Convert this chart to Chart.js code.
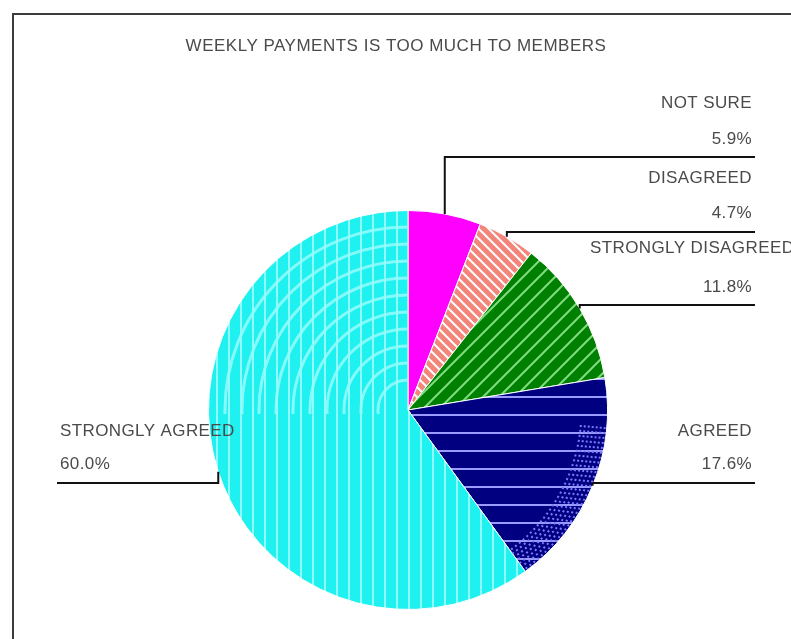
<!DOCTYPE html>
<html>
<head>
<meta charset="utf-8">
<script src="https://cdn.jsdelivr.net/npm/chart.js@4/dist/chart.umd.min.js"></script>
<style>
html, body { margin: 0; padding: 0; background: #fff; }
</style>
</head>
<body>
<canvas id="myChart" width="791" height="639"></canvas>
<script>
// chart data
const chartTitle = 'WEEKLY PAYMENTS IS TOO MUCH TO MEMBERS';
const categories = ['NOT SURE', 'DISAGREED', 'STRONGLY DISAGREED', 'AGREED', 'STRONGLY AGREED'];
const percents = [5.9, 4.7, 11.8, 17.6, 60.0];

// look of each slice
const fillColors = ['#ff00ff', '#f4857a', '#008000', '#000080', '#1ff0f0'];
const stripeColors = [null, '#ffffff', '#7fdc7f', '#9a9aff', '#90fbfb'];
const stripeKinds = [null, 'back', 'fwd', 'horiz', 'vert'];

// where the callout text sits: side, y of the leader line, y of the name, y of the value
const callouts = [
	{ side: 'right', lineY: 157, nameY: 103, pctY: 139 },
	{ side: 'right', lineY: 232, nameY: 178, pctY: 213 },
	{ side: 'right', lineY: 305, nameY: 248, pctY: 287, nameLeft: 590 },
	{ side: 'right', lineY: 483, nameY: 431, pctY: 464 },
	{ side: 'left', lineY: 483, nameY: 431, pctY: 464 }
];

function makePattern(bg, fg, kind) {
	if (!fg) return bg;
	const sizes = { back: 10, fwd: 16, horiz: 18, vert: 12 };
	const s = sizes[kind];
	const c = document.createElement('canvas');
	c.width = s; c.height = s;
	const g = c.getContext('2d');
	g.fillStyle = bg;
	g.fillRect(0, 0, s, s);
	g.strokeStyle = fg;
	g.lineWidth = 2;
	g.beginPath();
	if (kind == 'back') {
		g.moveTo(0, 0); g.lineTo(s, s);
		g.moveTo(-2, s - 2); g.lineTo(2, s + 2);
		g.moveTo(s - 2, -2); g.lineTo(s + 2, 2);
	} else if (kind == 'fwd') {
		g.moveTo(0, s); g.lineTo(s, 0);
		g.moveTo(-2, 2); g.lineTo(2, -2);
		g.moveTo(s - 2, s + 2); g.lineTo(s + 2, s - 2);
	} else if (kind == 'horiz') {
		g.moveTo(0, 1); g.lineTo(s, 1);
	} else {
		g.moveTo(1, 0); g.lineTo(1, s);
	}
	g.stroke();
	return g.createPattern(c, 'repeat');
}

const fills = fillColors.map((c, i) => makePattern(c, stripeColors[i], stripeKinds[i]));

function clipSlice(ctx, p) {
	ctx.beginPath();
	ctx.moveTo(p.x, p.y);
	ctx.arc(p.x, p.y, p.outerRadius, p.startAngle, p.endAngle);
	ctx.closePath();
	ctx.clip();
}

const decorations = {
	id: 'decorations',
	beforeDraw(chart) {
		const ctx = chart.ctx;
		ctx.save();
		// frame
		ctx.strokeStyle = '#3c3c3c';
		ctx.lineWidth = 2;
		ctx.beginPath();
		ctx.moveTo(13, 639);
		ctx.lineTo(13, 14);
		ctx.lineTo(791, 14);
		ctx.stroke();
		// title
		ctx.fillStyle = '#4a4a4a';
		ctx.font = '17px "Liberation Sans", Arial, sans-serif';
		ctx.letterSpacing = '0.5px';
		ctx.textAlign = 'center';
		ctx.textBaseline = 'middle';
		ctx.fillText(chartTitle, 396, 46);
		ctx.restore();
	},
	afterDatasetsDraw(chart) {
		const ctx = chart.ctx;
		const meta = chart.getDatasetMeta(0);
		const props = meta.data.map(a => a.getProps(['x', 'y', 'startAngle', 'endAngle', 'outerRadius'], true));

		// rings over the top of the big slice
		const big = props[4];
		ctx.save();
		clipSlice(ctx, big);
		ctx.beginPath();
		ctx.rect(0, 0, big.x, big.y + 4);
		ctx.clip();
		ctx.strokeStyle = 'rgba(150, 252, 252, 0.85)';
		ctx.lineWidth = 3;
		for (let r = 30; r < big.outerRadius; r += 17) {
			ctx.beginPath();
			ctx.arc(big.x, big.y, r, 0, Math.PI * 2);
			ctx.stroke();
		}
		ctx.restore();

		// dotted rim on the AGREED slice
		const ag = props[3];
		ctx.save();
		clipSlice(ctx, ag);
		ctx.strokeStyle = '#7a7aff';
		ctx.lineWidth = 2;
		ctx.setLineDash([2, 3]);
		for (let r = ag.outerRadius - 26; r < ag.outerRadius; r += 4) {
			ctx.beginPath();
			ctx.arc(ag.x, ag.y, r, ag.startAngle + 0.25, ag.endAngle);
			ctx.stroke();
		}
		ctx.restore();

		// callouts
		ctx.save();
		ctx.font = '17px "Liberation Sans", Arial, sans-serif';
		ctx.letterSpacing = '0.4px';
		ctx.textBaseline = 'middle';
		props.forEach((p, i) => {
			const c = callouts[i];
			const mid = (p.startAngle + p.endAngle) / 2;
			const ax = p.x + p.outerRadius * Math.cos(mid);
			const ay = p.y + p.outerRadius * Math.sin(mid);
			const endX = c.side == 'right' ? 755 : 57;
			ctx.strokeStyle = '#111';
			ctx.lineWidth = 2;
			ctx.beginPath();
			ctx.moveTo(ax, ay);
			ctx.lineTo(ax, c.lineY);
			ctx.lineTo(endX, c.lineY);
			ctx.stroke();

			ctx.fillStyle = '#4a4a4a';
			const pct = percents[i].toFixed(1) + '%';
			if (c.side == 'right') {
				if (c.nameLeft) {
					ctx.textAlign = 'left';
					ctx.fillText(categories[i], c.nameLeft, c.nameY);
				} else {
					ctx.textAlign = 'right';
					ctx.fillText(categories[i], 752, c.nameY);
				}
				ctx.textAlign = 'right';
				ctx.fillText(pct, 752, c.pctY);
			} else {
				ctx.textAlign = 'left';
				ctx.fillText(categories[i], 60, c.nameY);
				ctx.fillText(pct, 60, c.pctY);
			}
		});
		ctx.restore();
	}
};

const ctx = document.getElementById('myChart');
const myChart = new Chart(ctx, {
	type: 'pie',
	data: {
		labels: categories,
		datasets: [{
			data: percents,
			backgroundColor: fills,
			borderColor: '#ffffff',
			borderWidth: 1
		}]
	},
	options: {
		responsive: false,
		devicePixelRatio: 1,
		animation: false,
		layout: {
			padding: { left: 208, right: 183, top: 210, bottom: 29 }
		},
		plugins: {
			legend: { display: false },
			tooltip: { enabled: false },
			title: { display: false }
		}
	},
	plugins: [decorations]
});
</script>
</body>
</html>
